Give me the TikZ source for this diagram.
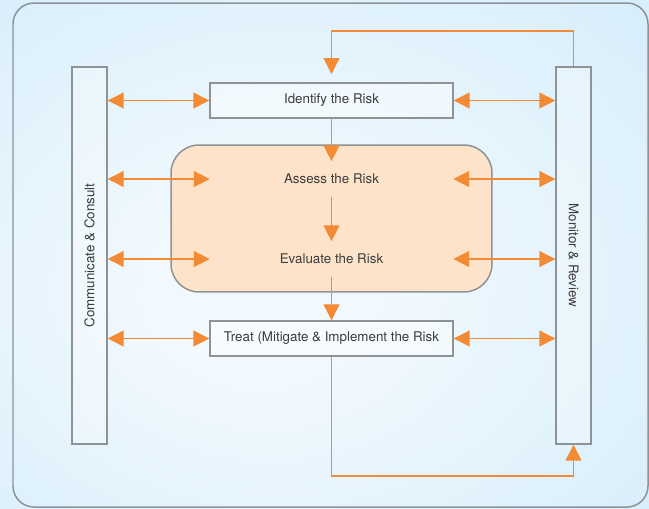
\documentclass[tikz,border=0pt]{standalone}
\usepackage{fontspec}
\setmainfont{TeX Gyre Heros}
\usetikzlibrary{arrows.meta}

\definecolor{riskorange}{HTML}{F58A35}
\definecolor{riskpeach}{HTML}{FDE3CA}
\definecolor{riskgray}{HTML}{8E9396}
\definecolor{riskblue}{HTML}{C6E7F9}
\definecolor{riskpale}{HTML}{F2F9FE}
\definecolor{risktext}{HTML}{3C3C3C}
\pgfdeclareradialshading{riskglow}{\pgfpoint{-6bp}{-5bp}}{color(0bp)=(riskpale); color(8bp)=(riskpale); color(56bp)=(riskblue)}

\begin{document}
\begin{tikzpicture}
[
  x=0.02cm, y=-0.02cm,
  >={Triangle[length=9pt,width=9pt]},
  font=\fontsize{7.6pt}{9pt}\selectfont,
  stage/.style = {draw=riskgray, line width=0.85pt, fill=white, fill opacity=0.4, text opacity=1,
                  minimum width=4.86cm, minimum height=0.7cm, inner sep=0pt, text=risktext},
  step in/.style = {minimum width=4.86cm, minimum height=0.7cm, inner sep=0pt, text=risktext},
  bar/.style = {draw=riskgray, line width=0.85pt, fill=white, fill opacity=0.25, text opacity=1,
                minimum width=0.7cm, minimum height=7.54cm, inner sep=0pt, text=risktext},
  flow/.style = {draw=riskorange, line width=0.75pt},
]

\useasboundingbox (0,0) rectangle (649,508);
\shade[shading=riskglow] (0,0) rectangle (649,508);
\draw[riskgray, line width=0.85pt, rounded corners=0.42cm] (13,3) rectangle (648,507);

% side bars
\node (comm) at (89.5,255.5) [bar] {};
\node at (comm.center) [rotate=90, text=risktext] {Communicate \& Consult};
\node (monitor) at (573.5,255.5) [bar] {};
\node at (monitor.center) [rotate=-90, text=risktext] {Monitor \& Review};

% steps
\node (core) at (331.5,218.5) [draw=riskgray, line width=0.85pt, fill=riskpeach, rounded corners=0.56cm,
                               minimum width=6.42cm, minimum height=2.94cm] {};
\node (identify) at (331.5,100.5) [stage] {Identify the Risk};
\node (assess) at (331.5,179) [step in] {Assess the Risk};
\node (evaluate) at (331.5,259) [step in] {Evaluate the Risk};
\node (treat) at (331.5,338.5) [stage] {Treat (Mitigate \& Implement the Risk};

\draw[flow,->] (identify.south) -- (assess.north);
\draw[flow,->] (assess.south) -- (evaluate.north);
\draw[flow,->] (evaluate.south) -- (treat.north);

\foreach \s in {identify, assess, evaluate, treat}
{
  \draw[flow,<->] (\s.west -| comm.east) -- (\s.west);
  \draw[flow,<->] (\s.east) -- (\s.east -| monitor.west);
}

\coordinate (topline) at (331.5,31);
\coordinate (topend) at (331.5,74);
\coordinate (botline) at (573.5,476);
\draw[flow,->] (monitor.north) |- (topline) -- (topend);
\draw[flow,->] (treat.south) |- (botline) -- (monitor.south);

\end{tikzpicture}
\end{document}
